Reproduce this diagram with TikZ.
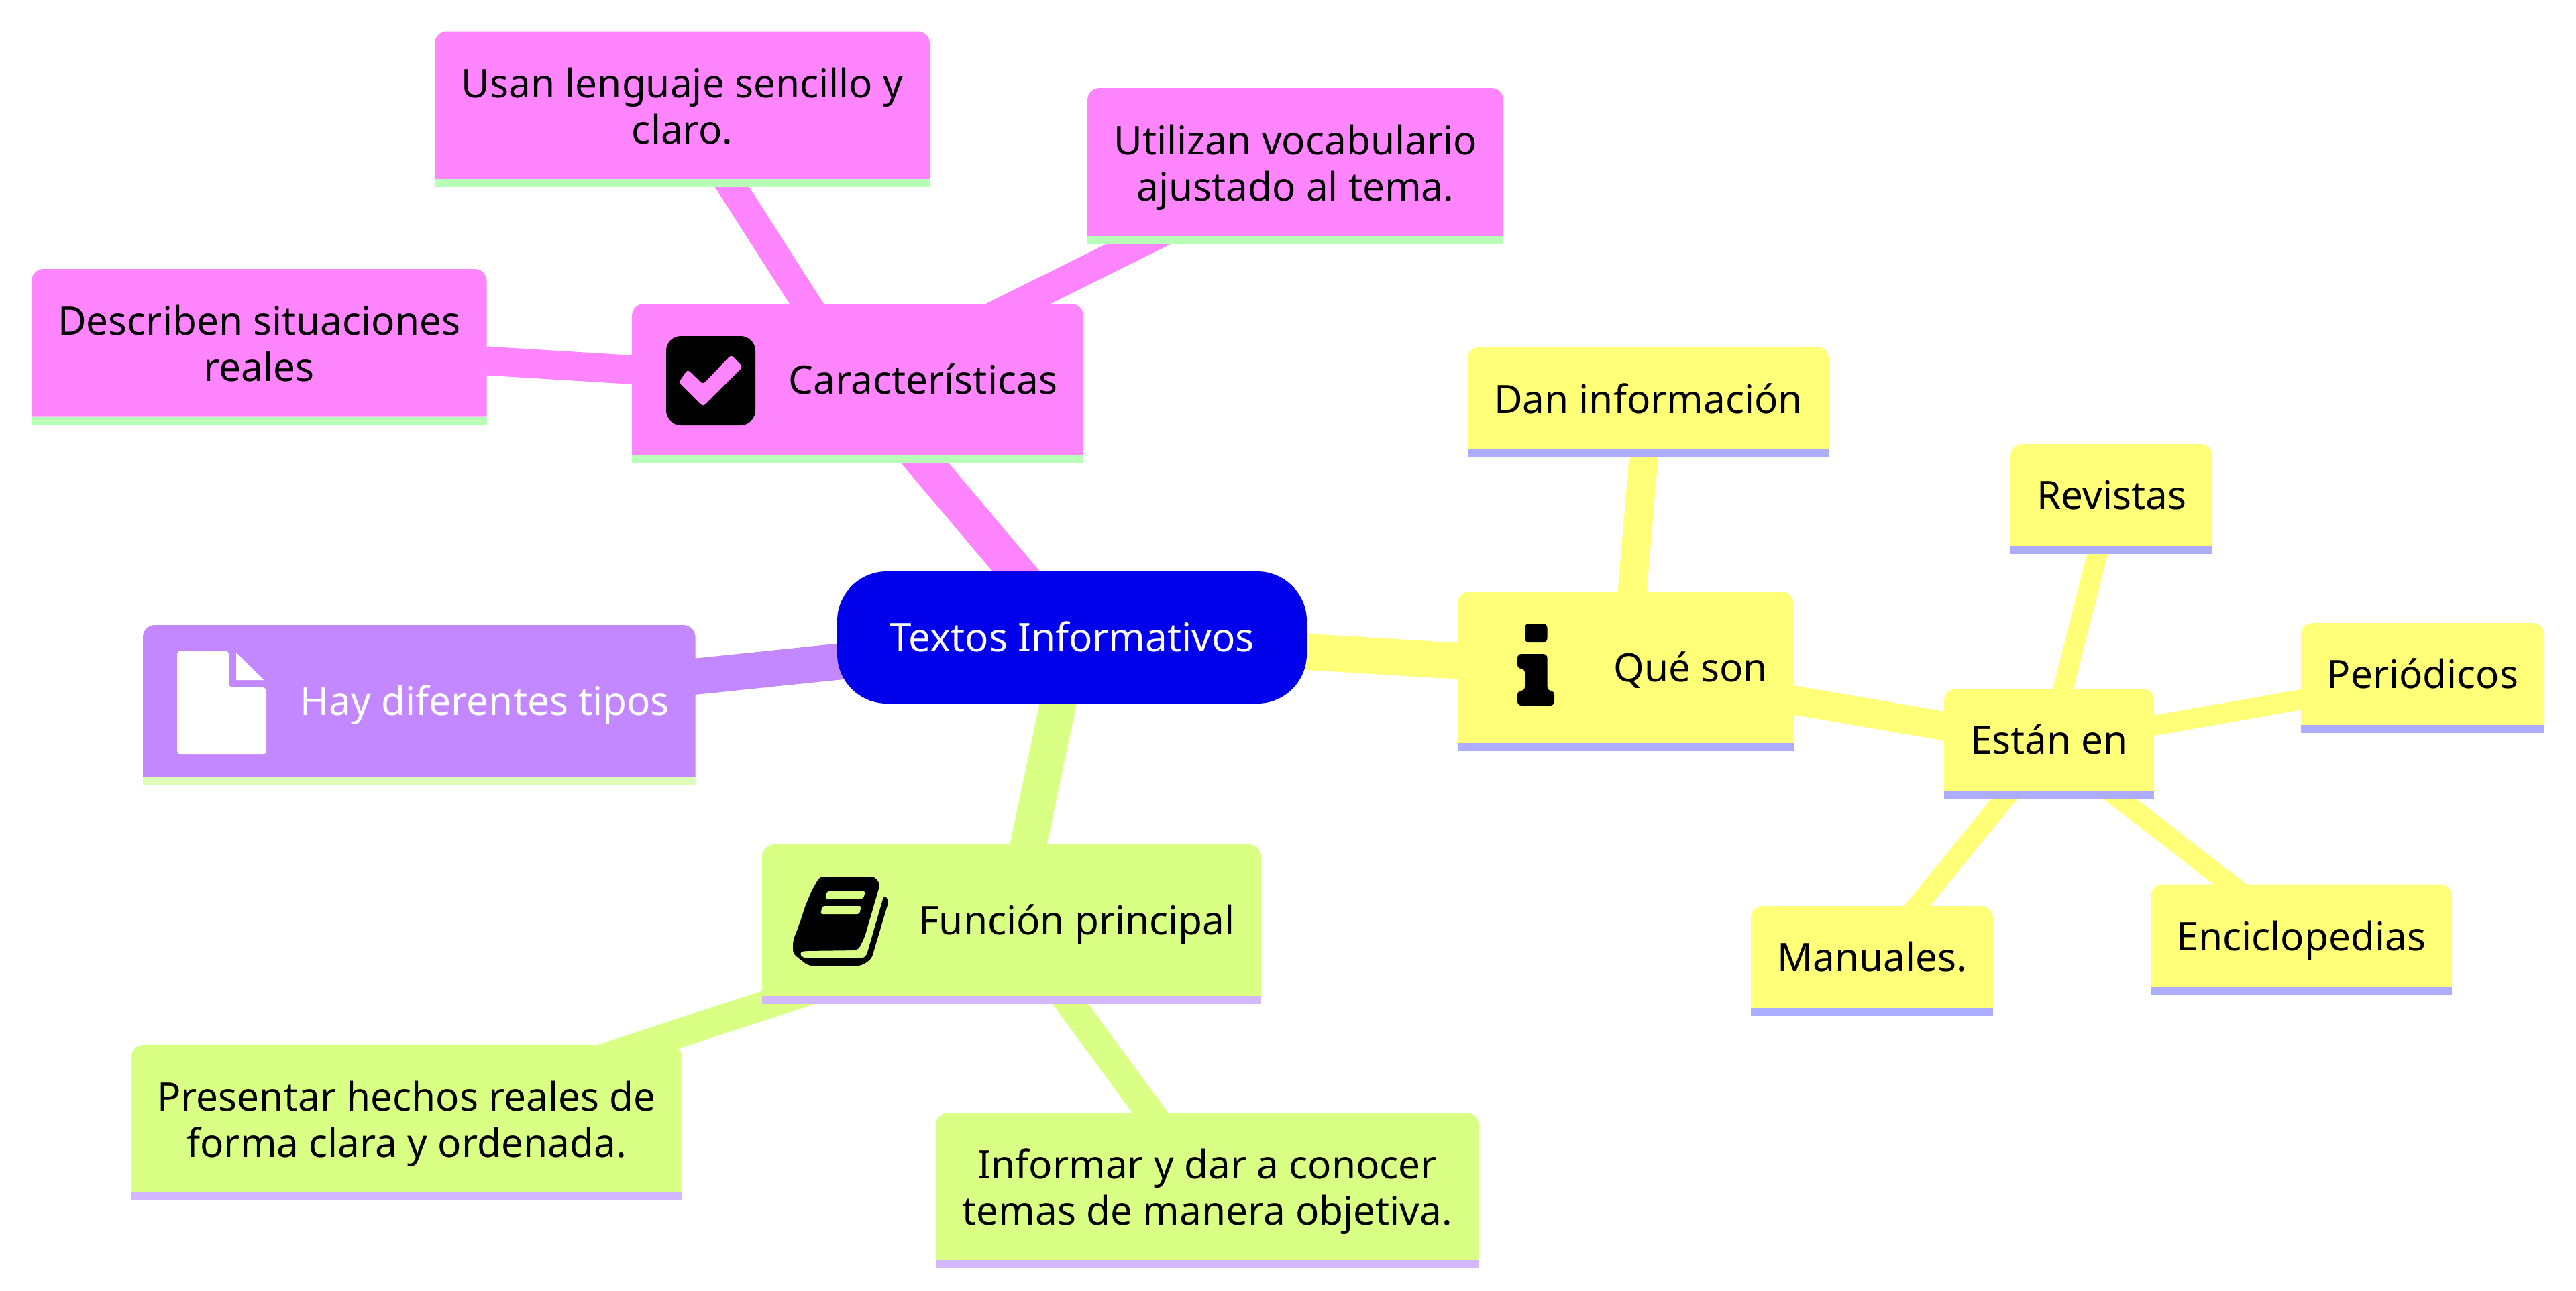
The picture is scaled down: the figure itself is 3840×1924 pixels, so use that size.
\documentclass[tikz,border=0pt]{standalone}
\usepackage{fontspec}
\setmainfont{Noto Sans}
\pgfdeclarelayer{paper}
\pgfdeclarelayer{edges}
\pgfdeclarelayer{boxes}
\pgfsetlayers{paper,edges,boxes,main}
\definecolor{cpink}{HTML}{FF85FF}
\definecolor{cpurple}{HTML}{C388FF}
\definecolor{cgreen}{HTML}{D9FF85}
\definecolor{cyellow}{HTML}{FFFF78}
\definecolor{spink}{HTML}{B8FFB8}
\definecolor{spurple}{HTML}{DEFFB8}
\definecolor{sgreen}{HTML}{D1B8FF}
\definecolor{syellow}{HTML}{ADADFF}
\definecolor{cblue}{HTML}{0000EA}
\newcommand{\mmfont}{\fontsize{29.25}{34.5}\selectfont}
\newcommand{\mmfirst}[1]{\rule{0pt}{21pt}\smash{#1}}
\newcommand{\mmleaf}[1]{\rule{0pt}{22.5pt}\smash{#1}}
\newcommand{\mmtop}[1]{\rule{0pt}{23pt}\smash{#1}}
\newcommand{\mmnext}[1]{\smash{#1}}
\newcommand{\mmbox}[7]{%
  \pgfmathsetmacro\mmcx{(#2+#3)/2}%
  \pgfmathsetmacro\mmcy{(#4+#5)/2}%
  \node[mmtext,#6,minimum width={(#3-#2)*0.5pt},minimum height={(#5-#4)*0.5pt}] (#1) at (\mmcx,\mmcy) {#7};}
\newcommand{\mmbg}[3]{%
  \fill[#2] (#1.south west) [rounded corners=9pt] -- (#1.north west) -- (#1.north east) [sharp corners] -- (#1.south east) -- cycle;
  \fill[#3] (#1.south west) rectangle ([yshift=-5.8pt]#1.south east);}
\newcommand{\mmlink}[3]{\draw[#1] ([yshift=-3pt]#2.center) -- ([yshift=-3pt]#3.center);}
\tikzset{
  mmtext/.style={font=\mmfont,align=center,inner sep=0pt,outer sep=0pt,text=black},
  edgeone/.style={line width=27pt},
  edgetwo/.style={line width=21.5pt},
  edgethree/.style={line width=15pt},
}
\begin{document}
\begin{tikzpicture}[x=0.5pt,y=-0.5pt]
\useasboundingbox (0,0) rectangle (3840,1924);
\begin{pgfonlayer}{paper}
\fill[white] (0,0) rectangle (3840,1924);
\end{pgfonlayer}
% nodes
\mmbox{root}{1248}{1948}{852}{1049}{fill=cblue,rounded corners=37pt,text=white}{\mmfirst{Textos Informativos}}
\mmbox{car}{942}{1615}{453}{679}{}{\mmfirst{\hspace*{97.5pt}Características}}
\mmbox{usan}{648}{1386}{46.5}{267}{}{\mmtop{Usan lenguaje sencillo y}\\\mmnext{claro.}}
\mmbox{util}{1621}{2241}{131}{352}{}{\mmtop{Utilizan vocabulario}\\\mmnext{ajustado al tema.}}
\mmbox{desc}{47}{725.5}{401}{621.5}{}{\mmtop{Describen situaciones}\\\mmnext{reales}}
\mmbox{hay}{213}{1036.5}{932}{1159}{text=white}{\mmfirst{\hspace*{98pt}Hay diferentes tipos}}
\mmbox{fun}{1136}{1880}{1259}{1485}{}{\mmfirst{\hspace*{97pt}Función principal}}
\mmbox{pres}{195.5}{1016.5}{1558}{1778}{}{\mmtop{Presentar hechos reales de}\\\mmnext{forma clara y ordenada.}}
\mmbox{info}{1395.5}{2204}{1659}{1879}{}{\mmtop{Informar y dar a conocer}\\\mmnext{temas de manera objetiva.}}
\mmbox{que}{2173}{2673.5}{882}{1108}{}{\mmfirst{\hspace*{97pt}Qué son}}
\mmbox{dan}{2188}{2726}{517}{670}{}{\mmleaf{Dan información}}
\mmbox{est}{2898}{3211}{1027}{1180}{}{\mmfirst{Están en}}
\mmbox{rev}{2997}{3298}{662}{814}{}{\mmfirst{Revistas}}
\mmbox{per}{3430}{3793}{929}{1081}{}{\mmfirst{Periódicos}}
\mmbox{enc}{3206}{3655}{1318.5}{1471}{}{\mmleaf{Enciclopedias}}
\mmbox{man}{2610}{2971}{1351}{1503}{}{\mmfirst{Manuales.}}
% connectors
\begin{pgfonlayer}{edges}
\draw[edgeone,cpink] (root.center) -- ([yshift=-3pt]car.center);
\draw[edgeone,cpurple] (root.center) -- ([yshift=-3pt]hay.center);
\draw[edgeone,cgreen] (root.center) -- ([yshift=-3pt]fun.center);
\draw[edgeone,cyellow] (root.center) -- ([yshift=-3pt]que.center);
\mmlink{edgetwo,cpink}{car}{usan}
\mmlink{edgetwo,cpink}{car}{util}
\mmlink{edgetwo,cpink}{car}{desc}
\mmlink{edgetwo,cgreen}{fun}{pres}
\mmlink{edgetwo,cgreen}{fun}{info}
\mmlink{edgetwo,cyellow}{que}{dan}
\mmlink{edgetwo,cyellow}{que}{est}
\mmlink{edgethree,cyellow}{est}{rev}
\mmlink{edgethree,cyellow}{est}{per}
\mmlink{edgethree,cyellow}{est}{enc}
\mmlink{edgethree,cyellow}{est}{man}
\end{pgfonlayer}
% box fills
\begin{pgfonlayer}{boxes}
\mmbg{car}{cpink}{spink}
\mmbg{usan}{cpink}{spink}
\mmbg{util}{cpink}{spink}
\mmbg{desc}{cpink}{spink}
\mmbg{hay}{cpurple}{spurple}
\mmbg{fun}{cgreen}{sgreen}
\mmbg{pres}{cgreen}{sgreen}
\mmbg{info}{cgreen}{sgreen}
\mmbg{que}{cyellow}{syellow}
\mmbg{dan}{cyellow}{syellow}
\mmbg{est}{cyellow}{syellow}
\mmbg{rev}{cyellow}{syellow}
\mmbg{per}{cyellow}{syellow}
\mmbg{enc}{cyellow}{syellow}
\mmbg{man}{cyellow}{syellow}
\end{pgfonlayer}
% check icon
\fill[black,rounded corners=11pt] (993,501) rectangle (1126,634);
\fill[cpink,rounded corners=2pt] (1012,570) -- (1025,551) -- (1048,573) -- (1090,529) -- (1107,547) -- (1048,606) -- cycle;
% document icon
\fill[white,rounded corners=3pt] (264,970) -- (341,970) -- (341,1025) -- (397,1025) -- (397,1125) -- (264,1125) -- cycle;
\fill[white] (352,973) -- (393.5,1014) -- (352,1014) -- cycle;
% book icon
\fill[black,rounded corners=3pt]
  (1222,1307) -- (1304,1307) -- (1312,1318) -- (1289,1397) -- (1279,1417) -- (1199,1418) -- (1191,1420) -- (1197,1429) -- (1284,1429) -- (1291,1427) -- (1318,1334) -- (1325,1343) -- (1299,1430) -- (1284,1440) -- (1205,1440) -- (1182,1422) -- (1182,1403) -- (1192,1377) -- (1200,1352) -- (1210,1328) -- cycle;
\fill[cgreen,rounded corners=1.5pt] (1233,1329) -- (1290,1329) -- (1287,1340) -- (1230,1340) -- cycle;
\fill[cgreen,rounded corners=1.5pt] (1226,1351) -- (1284,1351) -- (1281,1363) -- (1223,1363) -- cycle;
% info icon
\fill[black,rounded corners=3pt] (2273,930) rectangle (2306.5,958);
\fill[black,rounded corners=3pt] (2262,975) -- (2306.5,975) -- (2306.5,1030) -- (2317,1030) -- (2317,1052) -- (2262,1052) -- (2262,1030) -- (2273,1030) -- (2273,997) -- (2262,997) -- cycle;
\end{tikzpicture}
\end{document}
